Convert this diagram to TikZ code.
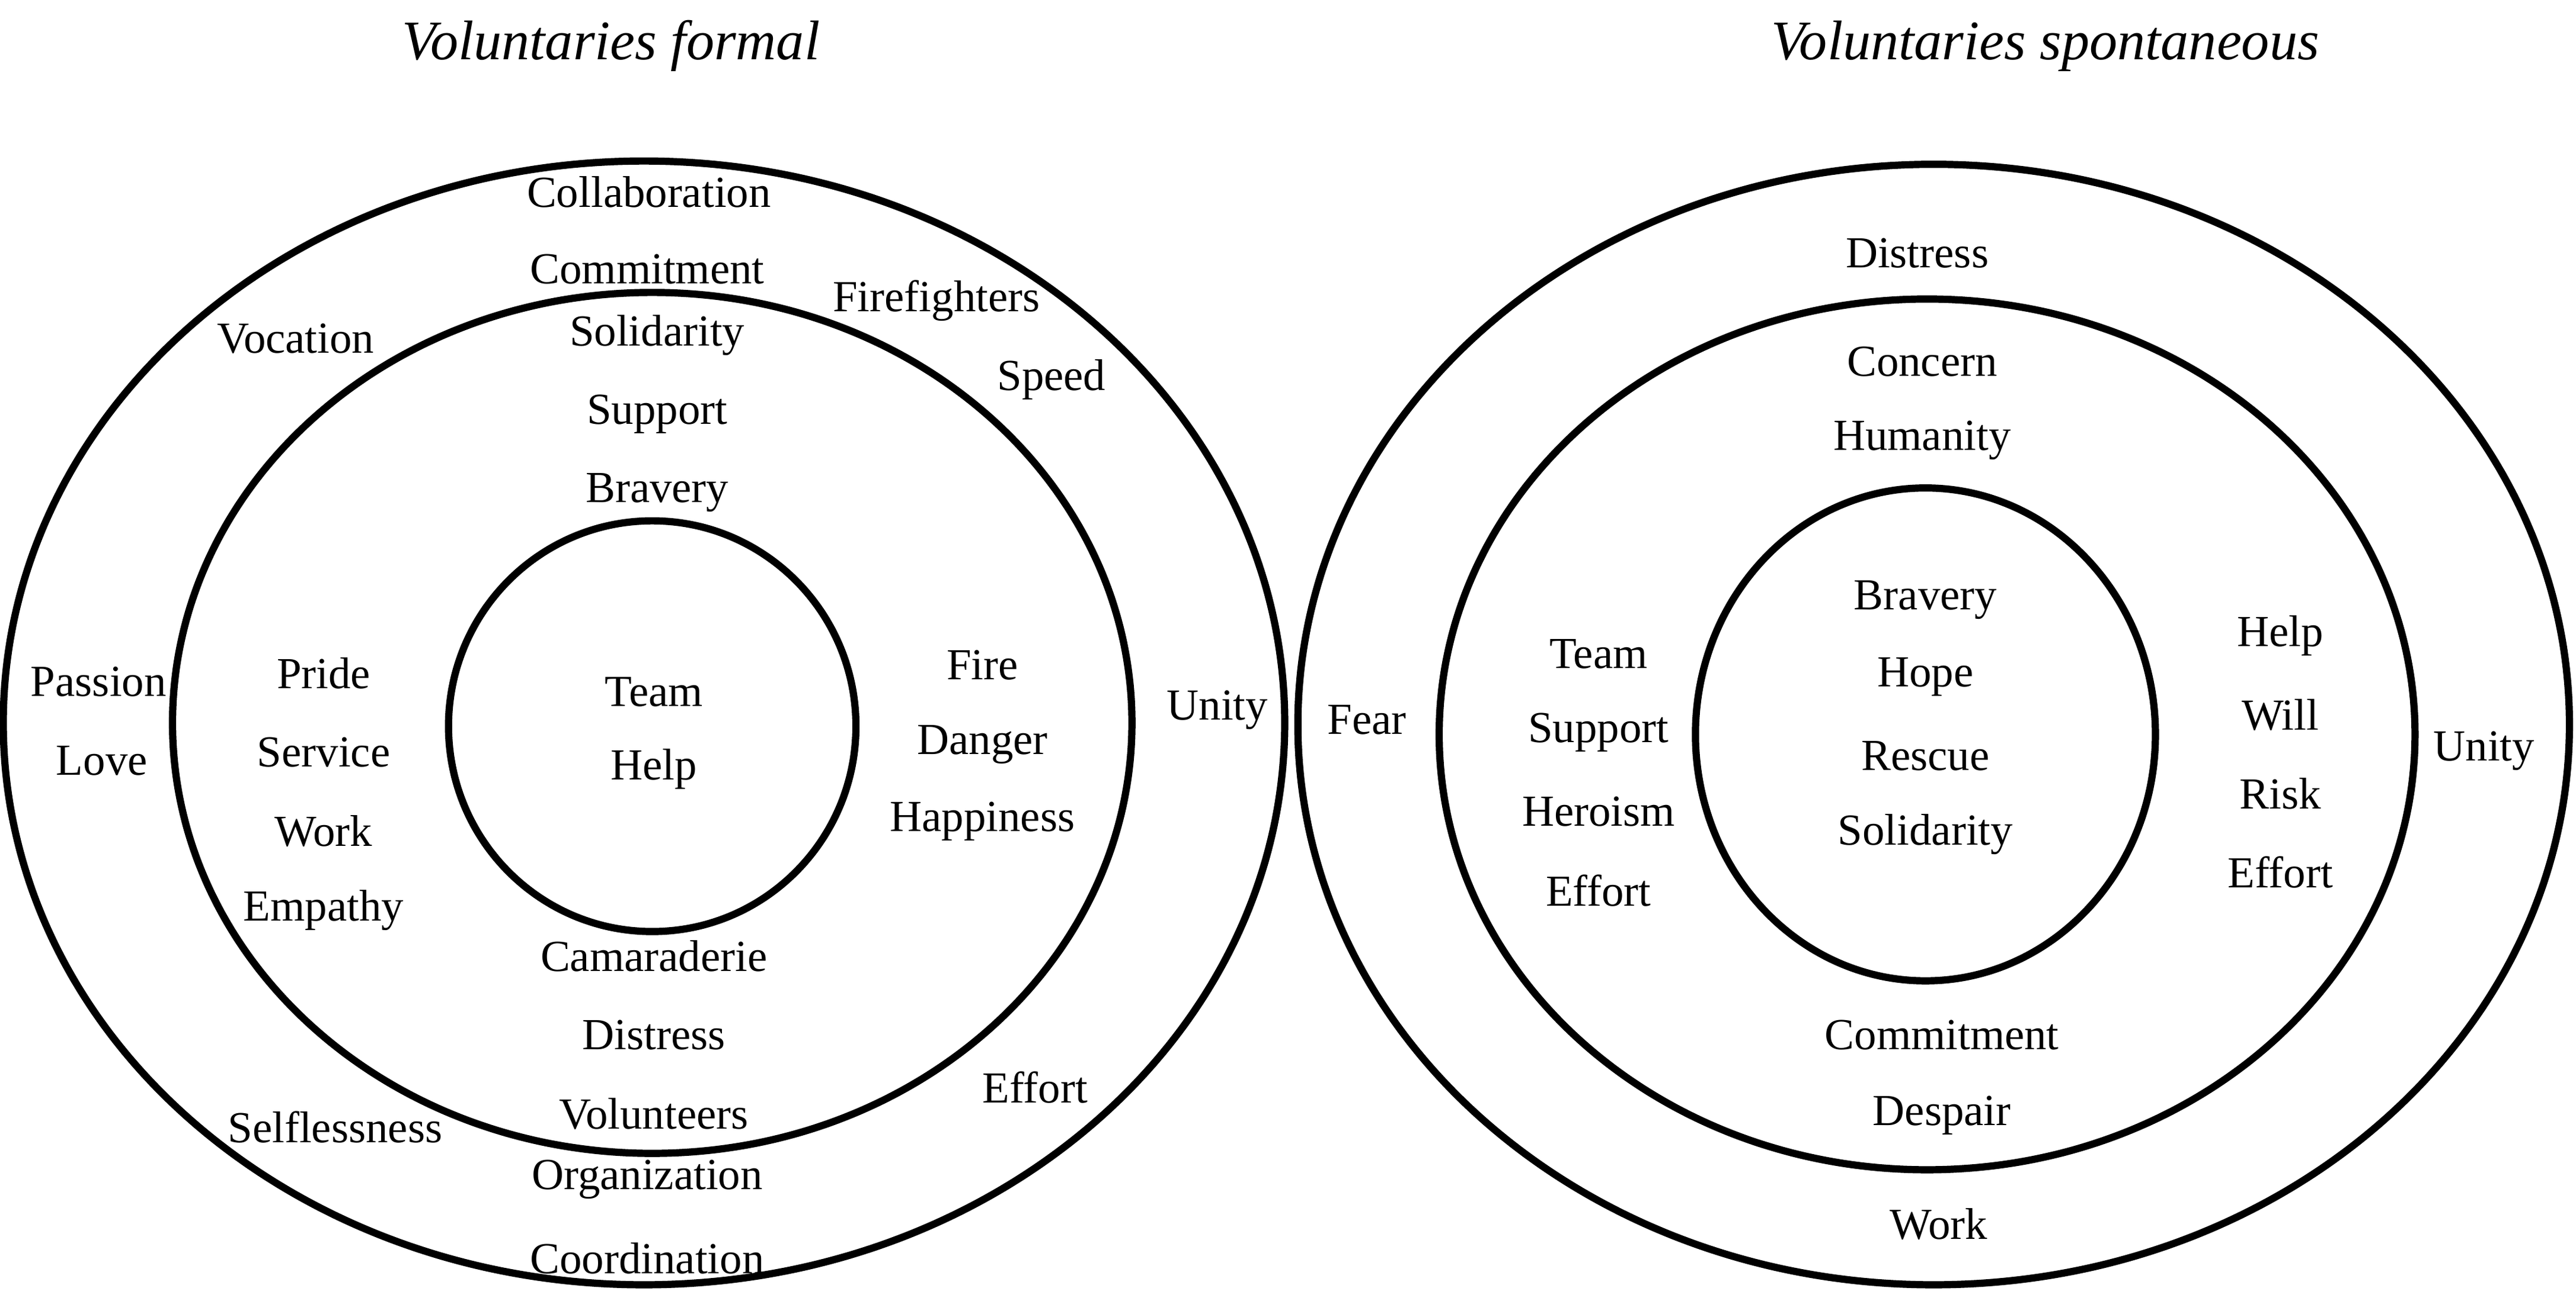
\documentclass[tikz,border=0pt]{standalone}
\usepackage{fontspec}
\setmainfont{Liberation Serif}
\begin{document}
\begin{tikzpicture}[x=0.5pt,y=-0.5pt,
  ring/.style={line width=2.2pt},
  w/.style={font=\fontsize{13.5}{15}\selectfont,inner sep=0pt},
  ttl/.style={font=\fontsize{17}{19}\selectfont\itshape,inner sep=0pt}]
\useasboundingbox (0,0) rectangle (1568,797);
\node[ttl] (t1) at (372,28) {Voluntaries formal};
\node[ttl] (t2) at (1245,28) {Voluntaries spontaneous};
% left
\draw[ring] (392,440) ellipse [x radius=390, y radius=342];
\draw[ring] (397,440) ellipse [x radius=292, y radius=262];
\draw[ring] (397,442) ellipse [x radius=124, y radius=125];
% right
\draw[ring] (1177,441) ellipse [x radius=387, y radius=341];
\draw[ring] (1173,447) ellipse [x radius=297, y radius=265];
\draw[ring] (1172,447) ellipse [x radius=140, y radius=150];
% left words
\foreach \t/\x/\y [count=\i] in {Collaboration/395/117, Commitment/394/164, Vocation/180/206, Firefighters/570/183, Solidarity/400/204, Speed/640/231, Support/400/252, Bravery/400/300, Passion/60/415, Love/62/463, Pride/197/410, Service/197/458, Work/197/506, Empathy/197/554, Team/398/421, Help/398/468, Fire/598/405, Danger/598/453, Happiness/598/500, Unity/741/432, Camaraderie/398/582, Distress/398/630, Volunteers/398/678, Effort/630/662, Selflessness/204/686, Organization/394/718, Coordination/394/766}
  \node[w] (l\i) at (\x,\y) {\t};
% right words
\foreach \t/\x/\y [count=\i] in {Distress/1167/154, Concern/1170/220, Humanity/1170/268, Bravery/1172/365, Hope/1172/412, Rescue/1172/460, Solidarity/1172/508, Fear/832/438, Team/973/398, Support/973/446, Heroism/973/494, Effort/973/542, Help/1388/387, Will/1388/435, Risk/1388/483, Effort/1388/531, Unity/1512/457, Commitment/1182/630, Despair/1182/679, Work/1180/745}
  \node[w] (r\i) at (\x,\y) {\t};
\end{tikzpicture}
\end{document}
